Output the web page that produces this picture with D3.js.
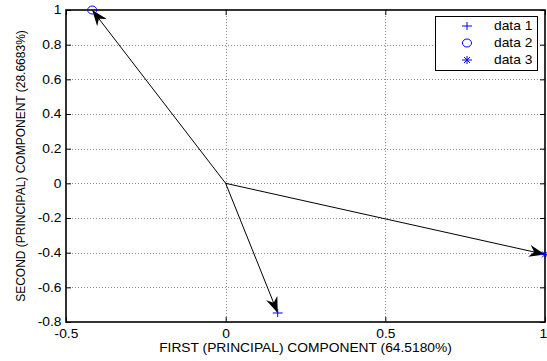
<!DOCTYPE html>
<html>
<head>
<meta charset="utf-8">
<script src="https://cdn.jsdelivr.net/npm/d3@7"></script>
<style>
  html, body { margin: 0; padding: 0; background: #fff; }
  svg { display: block; font-family: "Liberation Sans", Arial, sans-serif; }
</style>
</head>
<body>
<svg id="chart" width="547" height="361"></svg>
<script>
// PCA biplot: loadings of three variables on the first two components
const seriesNames = ["data 1", "data 2", "data 3"];
const pc1 = [0.163, -0.418, 1.0];
const pc2 = [-0.748, 1.0, -0.41];
const symbols = ["plus", "circle", "star"];
const xTicks = [-0.5, 0, 0.5, 1];
const yTicks = [-0.8, -0.6, -0.4, -0.2, 0, 0.2, 0.4, 0.6, 0.8, 1];
const xLabel = "FIRST (PRINCIPAL) COMPONENT (64.5180%)";
const yLabel = "SECOND (PRINCIPAL) COMPONENT (28.6683%)";

const svg = d3.select("#chart");
const L = 66, R = 545, T = 10, B = 322;
const x = d3.scaleLinear().domain([-0.5, 1]).range([L, R]);
const y = d3.scaleLinear().domain([-0.8, 1]).range([B, T]);
const blue = "#0000ff";
const FS = 12;          // font size
const WX = 1.15;        // horizontal widening of the text glyphs

// grid
const grid = svg.append("g").attr("stroke", "#8c8c8c").attr("stroke-width", 1)
  .attr("stroke-dasharray", "1,2");
grid.selectAll("line.gx").data(xTicks.slice(1, -1)).join("line")
  .attr("x1", d => Math.round(x(d)) + 0.5).attr("x2", d => Math.round(x(d)) + 0.5)
  .attr("y1", T).attr("y2", B);
grid.selectAll("line.gy").data(yTicks.slice(1, -1)).join("line")
  .attr("y1", d => Math.round(y(d)) + 0.5).attr("y2", d => Math.round(y(d)) + 0.5)
  .attr("x1", L).attr("x2", R);

// axes with inward ticks
const fmt = d => String(d);
const axB = svg.append("g").attr("transform", `translate(0,${B})`)
  .call(d3.axisBottom(x).tickValues(xTicks).tickFormat(fmt).tickSizeInner(-5).tickSizeOuter(0).tickPadding(6));
const axT = svg.append("g").attr("transform", `translate(0,${T})`)
  .call(d3.axisTop(x).tickValues(xTicks).tickFormat("").tickSizeInner(-5).tickSizeOuter(0));
const axL = svg.append("g").attr("transform", `translate(${L},0)`)
  .call(d3.axisLeft(y).tickValues(yTicks).tickFormat(fmt).tickSizeInner(-5).tickSizeOuter(0).tickPadding(4));
const axR = svg.append("g").attr("transform", `translate(${R},0)`)
  .call(d3.axisRight(y).tickValues(yTicks).tickFormat("").tickSizeInner(-5).tickSizeOuter(0));
[axB, axT, axL, axR].forEach(g => {
  g.select(".domain").remove();
  g.selectAll("line").attr("stroke", "#000");
  g.selectAll("text").attr("fill", "#000").attr("font-size", FS)
    .attr("font-family", "Liberation Sans, Arial, sans-serif")
    .attr("transform", `scale(${WX},1)`);
});
axB.selectAll("text").attr("dy", "0.85em")
  .attr("dx", d => d === 1 ? -2 : 0);

// frame
svg.append("rect").attr("x", L).attr("y", T).attr("width", R - L).attr("height", B - T)
  .attr("fill", "none").attr("stroke", "#000").attr("stroke-width", 1.6);

// arrowhead marker
const defs = svg.append("defs");
defs.append("marker").attr("id", "head")
  .attr("viewBox", "0 -6 16 12").attr("refX", 16).attr("refY", 0)
  .attr("markerWidth", 16).attr("markerHeight", 12).attr("markerUnits", "userSpaceOnUse")
  .attr("orient", "auto")
  .append("path").attr("d", "M0,-6 L16,0 L0,6 L5,0 Z").attr("fill", "#000");

// vectors from the origin
const idx = d3.range(pc1.length);
svg.append("g").selectAll("line").data(idx).join("line")
  .attr("x1", x(0)).attr("y1", y(0))
  .attr("x2", i => x(pc1[i])).attr("y2", i => y(pc2[i]))
  .attr("stroke", "#000").attr("stroke-width", 1)
  .attr("marker-end", "url(#head)");

// point markers
function drawSymbol(g, type, cx, cy) {
  if (type === "plus") {
    g.append("path").attr("d", `M${cx - 5},${cy}H${cx + 5}M${cx},${cy - 4}V${cy + 4}`)
      .attr("stroke", blue).attr("fill", "none");
  } else if (type === "circle") {
    g.append("ellipse").attr("cx", cx).attr("cy", cy).attr("rx", 4.5).attr("ry", 4)
      .attr("stroke", blue).attr("fill", "none");
  } else {
    g.append("path").attr("d",
      `M${cx - 5},${cy}H${cx + 5}M${cx},${cy - 4}V${cy + 4}M${cx - 3},${cy - 3}L${cx + 3},${cy + 3}M${cx - 3},${cy + 3}L${cx + 3},${cy - 3}`)
      .attr("stroke", blue).attr("fill", "none");
  }
}
const pts = svg.append("g");
idx.forEach(i => drawSymbol(pts, symbols[i], x(pc1[i]), y(pc2[i])));

// legend
const lg = svg.append("g");
lg.append("rect").attr("x", 435.5).attr("y", 16.5).attr("width", 102).attr("height", 54)
  .attr("fill", "#fff").attr("stroke", "#000").attr("stroke-width", 1);
idx.forEach(i => {
  const ly = 26 + i * 17;
  drawSymbol(lg, symbols[i], 467, ly);
  lg.append("text").attr("transform", `translate(494,${ly}) scale(${WX},1)`)
    .attr("dy", "0.35em")
    .attr("font-size", FS).attr("fill", "#000").text(seriesNames[i]);
});

// axis titles
svg.append("text").attr("transform", `translate(${(L + R) / 2},352) scale(${WX},1)`)
  .attr("text-anchor", "middle")
  .attr("font-size", FS).attr("fill", "#000").text(xLabel);
svg.append("text").attr("transform", `translate(25,${(T + B) / 2}) rotate(-90)`)
  .attr("text-anchor", "middle").attr("font-size", FS).attr("fill", "#000").text(yLabel);
</script>
</body>
</html>
